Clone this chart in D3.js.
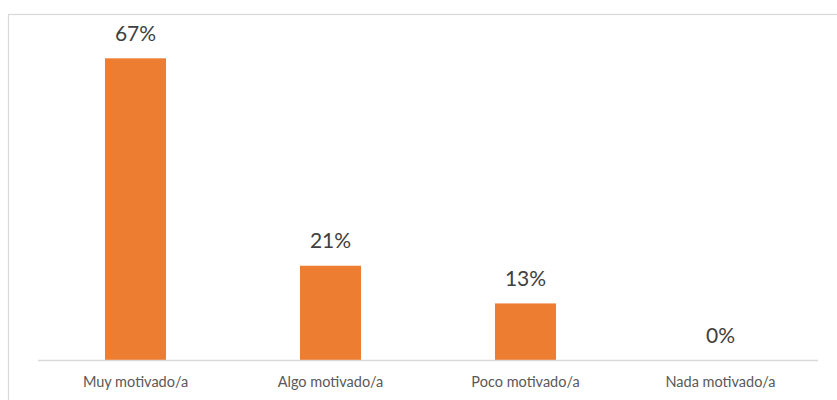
<!DOCTYPE html>
<html><head><meta charset="utf-8">
<script src="https://cdn.jsdelivr.net/npm/d3@7"></script>
<style>body{margin:0;background:#fff}svg{display:block}</style>
</head><body>
<script>
const categories = ["Muy motivado/a","Algo motivado/a","Poco motivado/a","Nada motivado/a"];
const values = [66.67, 20.83, 12.5, 0];
const labels = ["67%","21%","13%","0%"];

const W = 837, H = 400;
const svg = d3.select("body").append("svg").attr("width", W).attr("height", H);

svg.append("rect").attr("x",8.5).attr("y",14.5).attr("width",W).attr("height",H)
  .attr("fill","none").attr("stroke","#d9d9d9").attr("stroke-width",1.2);

const x = d3.scaleBand().domain(categories).range([38,818]).paddingInner(0.687).paddingOuter(0.3435);
const y = d3.scaleLinear().domain([0,70]).range([360, 43.25]);

svg.selectAll("rect.bar").data(values).join("rect").attr("class","bar")
  .attr("x",(d,i)=>x(categories[i])).attr("width",x.bandwidth())
  .attr("y",d=>y(d)).attr("height",d=>y(0)-y(d)).attr("fill","#ed7d31");

svg.append("line").attr("x1",38).attr("x2",818).attr("y1",360.5).attr("y2",360.5)
  .attr("stroke","#d9d9d9").attr("stroke-width",1.5);

svg.selectAll("text.lab").data(values).join("text").attr("class","lab")
  .attr("x",(d,i)=>x(categories[i])+x.bandwidth()/2).attr("y",d=>y(d)-17.5)
  .attr("text-anchor","middle").attr("font-family","Lato, sans-serif")
  .attr("font-size",21).attr("fill","#404040").text((d,i)=>labels[i]);

const ax = d3.axisBottom(x).tickSize(0).tickPadding(0);
const g = svg.append("g").attr("transform","translate(0,361)").call(ax);
g.select(".domain").remove();
g.selectAll("text").attr("font-family","Lato, sans-serif").attr("font-size",14.5)
  .attr("fill","#595959").attr("dy",null).attr("y",25.5);
</script>
</body></html>
